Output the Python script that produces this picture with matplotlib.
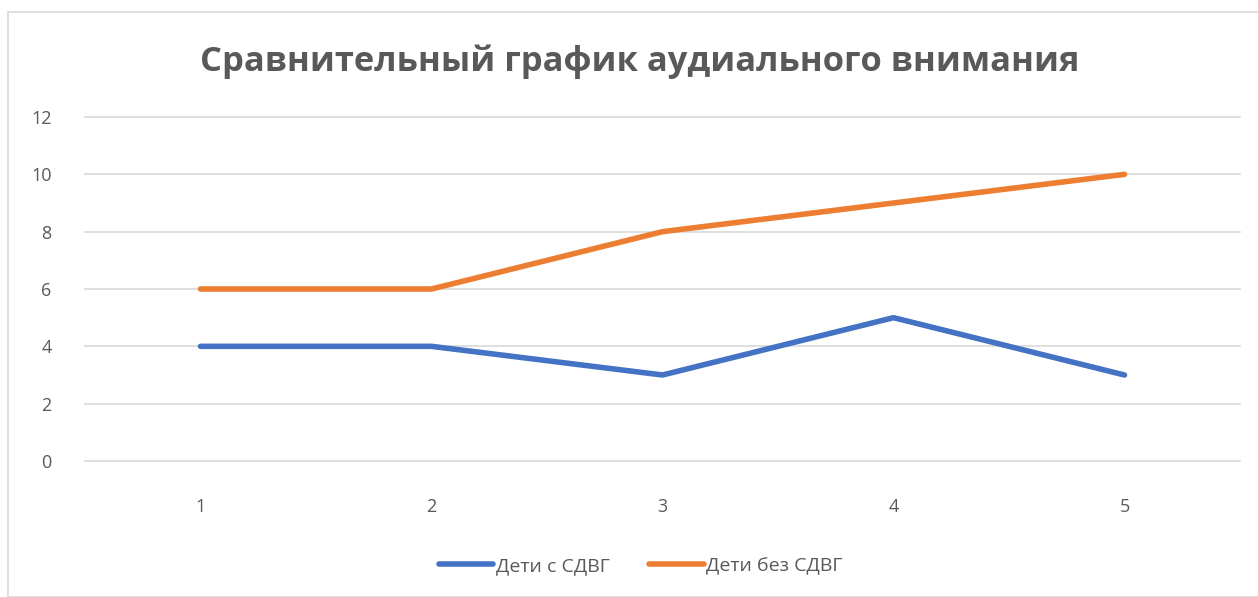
import matplotlib.pyplot as plt
from matplotlib.patches import Rectangle

# data
categories = ['1', '2', '3', '4', '5']
adhd = [4, 4, 3, 5, 3]
no_adhd = [6, 6, 8, 9, 10]
yticks = [0, 2, 4, 6, 8, 10, 12]

plt.rcParams['font.family'] = ['Open Sans', 'DejaVu Sans']
W, H = 1258, 597
fig = plt.figure(figsize=(W / 100, H / 100), dpi=100)

# chart frame
fig.patches.append(Rectangle((8 / W, 0), 1.2, (H - 12) / H, transform=fig.transFigure,
                             fill=False, edgecolor='#d9d9d9', linewidth=1.2))

ax = fig.add_axes([85 / W, 1 - 461 / H, (1240 - 85) / W, (461 - 117) / H])
x = range(len(categories))
ax.plot(x, adhd, color='#4472C4', linewidth=4, solid_capstyle='round', label='Дети с СДВГ')
ax.plot(x, no_adhd, color='#ED7D31', linewidth=4, solid_capstyle='round', label='Дети без СДВГ')

ax.set_xlim(-0.5, len(categories) - 0.5)
ax.set_ylim(0, 12)
ax.set_yticks(yticks)
ax.set_xticks(list(x))
ax.set_xticklabels(categories)
ax.grid(axis='y', color='#d9d9d9', linewidth=1.2)
for g in ax.get_ygridlines():
    g.set_clip_on(False)
ax.set_axisbelow(True)
for s in ax.spines.values():
    s.set_visible(False)
ax.tick_params(length=0, colors='#595959', labelsize=13)
ax.tick_params(axis='y', pad=24)
ax.tick_params(axis='x', pad=27)

fig.text(640 / W, 1 - 62 / H, 'Сравнительный график аудиального внимания',
         ha='center', va='center', fontsize=24.8, fontweight='bold', color='#595959')

leg = fig.legend(loc='center', bbox_to_anchor=(641 / W, 1 - 566 / H), ncol=2, frameon=False,
                 fontsize=14, handlelength=2.8, handletextpad=0.15, columnspacing=2.0)
for t in leg.get_texts():
    t.set_color('#595959')

fig.savefig('out.png', dpi=100)
